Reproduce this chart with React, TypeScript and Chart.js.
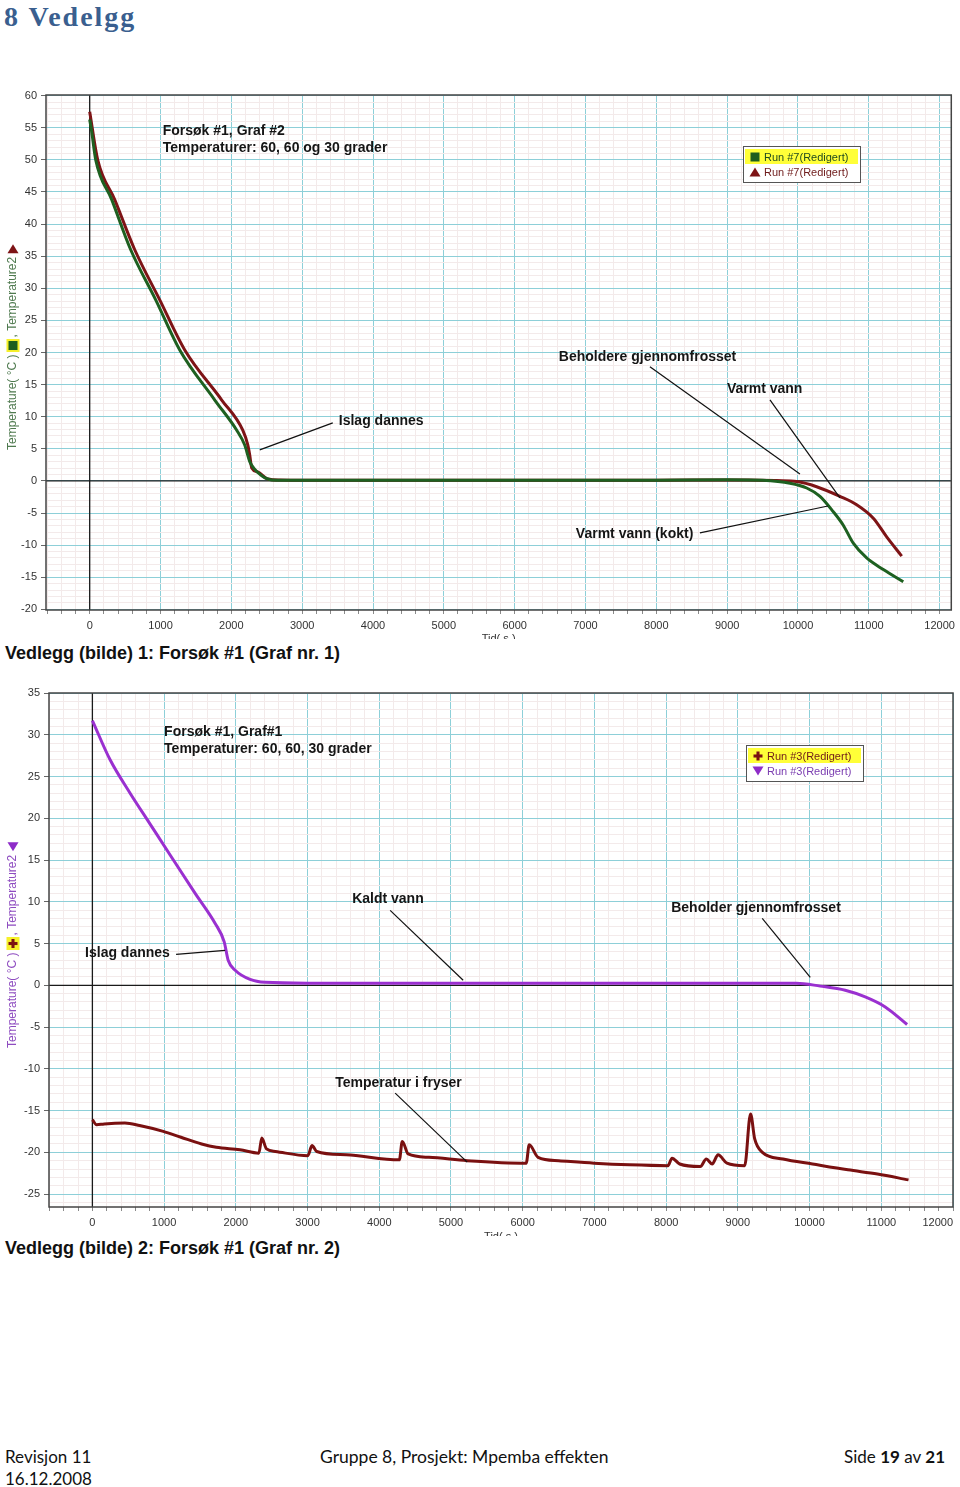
import React, { useEffect, useRef } from 'react';
import { Chart, registerables } from 'chart.js';

Chart.register(...registerables);

const FONT = '"Liberation Sans", Arial, Helvetica, sans-serif';

// ---------------- Graf nr. 1 (Run #7) ----------------
const g1GreenTime = [0, 28, 85, 311, 579, 932, 1271, 1766, 2076, 2189, 2260, 2316, 2429, 2571, 3000, 4000, 5000, 6000, 7000, 8000, 9000, 9500, 9887, 10123, 10311, 10499, 10640, 10781, 10970, 11205, 11487];
const g1GreenTemp = [56.3, 54.4, 50.0, 43.8, 36.0, 28.2, 20.4, 12.6, 7.9, 5.6, 3.0, 2.0, 0.8, 0.15, 0.1, 0.12, 0.1, 0.12, 0.1, 0.12, 0.2, 0.1, -0.36, -1.1, -2.4, -4.8, -6.9, -9.7, -12.0, -13.8, -15.7];
const g1RedTime = [0, 113, 353, 636, 989, 1342, 1864, 2161, 2232, 2260, 2288, 2373, 2514, 2684, 3500, 4500, 5500, 6500, 7500, 8500, 9300, 9700, 9981, 10264, 10593, 10829, 11064, 11253, 11465];
const g1RedTemp = [57.5, 50.0, 43.8, 36.0, 28.2, 20.4, 12.6, 7.9, 5.6, 4.0, 2.0, 1.4, 0.3, 0.15, 0.1, 0.1, 0.12, 0.1, 0.1, 0.15, 0.15, 0.05, -0.1, -0.9, -2.4, -3.7, -5.8, -8.7, -11.7];

// ---------------- Graf nr. 2 (Run #3) ----------------
const g2PurpleTime = [0, 247, 526, 805, 1084, 1433, 1712, 1838, 1893, 1991, 2199, 2408, 3000, 4000, 5000, 6000, 7000, 8000, 9000, 9814, 10148, 10497, 10776, 11055, 11360];
const g2PurpleTemp = [31.7, 27.0, 23.0, 19.3, 15.6, 11.0, 7.4, 5.2, 3.0, 1.8, 0.7, 0.35, 0.25, 0.25, 0.25, 0.25, 0.25, 0.25, 0.25, 0.25, -0.1, -0.6, -1.4, -2.6, -4.7];
const g2FreezerTime = [0, 58, 165, 453, 658, 988, 1235, 1523, 1728, 2058, 2321, 2362, 2428, 2551, 3004, 3062, 3128, 3539, 4280, 4321, 4403, 4691, 5226, 6049, 6091, 6214, 6502, 6996, 7490, 8025, 8082, 8189, 8477, 8560, 8642, 8724, 8848, 9095, 9177, 9235, 9342, 9630, 10041, 10535, 10947, 11380];
const g2FreezerTemp = [-16.1, -16.7, -16.6, -16.5, -16.8, -17.5, -18.2, -19.0, -19.4, -19.7, -20.1, -18.3, -19.6, -19.9, -20.4, -19.2, -19.9, -20.3, -20.9, -18.7, -20.2, -20.6, -21.0, -21.3, -19.1, -20.6, -21.0, -21.3, -21.5, -21.6, -20.7, -21.4, -21.7, -20.8, -21.4, -20.3, -21.3, -21.6, -15.4, -18.4, -20.0, -20.8, -21.4, -22.1, -22.6, -23.3];

// ---------------- tick labels ----------------
const xTickLabels = [0, 1000, 2000, 3000, 4000, 5000, 6000, 7000, 8000, 9000, 10000, 11000, 12000];
const g1YTickLabels = [-20, -15, -10, -5, 0, 5, 10, 15, 20, 25, 30, 35, 40, 45, 50, 55, 60];
const g2YTickLabels = [-25, -20, -15, -10, -5, 0, 5, 10, 15, 20, 25, 30, 35];

// ---------------- annotations (data coordinates) ----------------
const g1Notes = [
  { text: 'Forsøk #1, Graf #2', x: 1031, y: 54.4 },
  { text: 'Temperaturer: 60, 60 og 30 grader', x: 1031, y: 51.75 },
  { text: 'Islag dannes', x: 3517, y: 9.35 },
  { text: 'Beholdere gjennomfrosset', x: 6624, y: 19.33 },
  { text: 'Varmt vann', x: 8997, y: 14.34 },
  { text: 'Varmt vann (kokt)', x: 6864, y: -8.26 },
];
const g1Leaders = [
  { x1: 3432, y1: 9.04, x2: 2401, y2: 4.83 },
  { x1: 7910, y1: 17.77, x2: 10028, y2: 1.09 },
  { x1: 9605, y1: 12.63, x2: 10593, y2: -2.65 },
  { x1: 8616, y1: -8.1, x2: 10424, y2: -3.9 },
];
const g2Notes = [
  { text: 'Forsøk #1, Graf#1', x: 1000, y: 30.26 },
  { text: 'Temperaturer: 60, 60, 30 grader', x: 1000, y: 28.23 },
  { text: 'Kaldt vann', x: 3622, y: 10.29 },
  { text: 'Beholder gjennomfrosset', x: 8071, y: 9.21 },
  { text: 'Islag dannes', x: -102, y: 3.83 },
  { text: 'Temperatur i fryser', x: 3385, y: -11.72 },
];
const g2Leaders = [
  { x1: 4152, y1: 8.97, x2: 5170, y2: 0.6 },
  { x1: 9340, y1: 8.01, x2: 10010, y2: 0.96 },
  { x1: 1167, y1: 3.71, x2: 1851, y2: 4.19 },
  { x1: 4222, y1: -12.92, x2: 5226, y2: -21.17 },
];

const g1LegendLabels = ['Run #7(Redigert)', 'Run #7(Redigert)'];
const g2LegendLabels = ['Run #3(Redigert)', 'Run #3(Redigert)'];

type Icon = 'square' | 'triUp' | 'triDown' | 'plus';

function drawIcon(ctx: CanvasRenderingContext2D, kind: Icon, color: string, cx: number, cy: number, s: number, hilite = false) {
  ctx.save();
  if (hilite) {
    ctx.fillStyle = '#f6f02a';
    ctx.fillRect(cx - s / 2 - 2, cy - s / 2 - 2, s + 4, s + 4);
  }
  ctx.fillStyle = color;
  if (kind === 'square') {
    ctx.fillRect(cx - s / 2, cy - s / 2, s, s);
  } else if (kind === 'triUp') {
    ctx.beginPath();
    ctx.moveTo(cx, cy - s / 2);
    ctx.lineTo(cx + s / 2 + 1, cy + s / 2);
    ctx.lineTo(cx - s / 2 - 1, cy + s / 2);
    ctx.closePath();
    ctx.fill();
  } else if (kind === 'triDown') {
    ctx.beginPath();
    ctx.moveTo(cx - s / 2 - 1, cy - s / 2);
    ctx.lineTo(cx + s / 2 + 1, cy - s / 2);
    ctx.lineTo(cx, cy + s / 2);
    ctx.closePath();
    ctx.fill();
  } else {
    const t = Math.max(2, s * 0.34);
    ctx.fillRect(cx - s / 2, cy - t / 2, s, t);
    ctx.fillRect(cx - t / 2, cy - s / 2, t, s);
  }
  ctx.restore();
}

function stepTicks(min: number, max: number, step: number) {
  const out: { value: number }[] = [];
  for (let k = Math.ceil(min / step); k * step <= max + 1e-9; k++) {
    out.push({ value: Math.round(k * step * 1000) / 1000 });
  }
  return out;
}

type Series = { label: string; color: string; times: number[]; temps: number[] };
type Spec = {
  top: number;
  height: number;
  padTop: number;
  padRight: number;
  yAxisWidth: number;
  xAxisHeight: number;
  xMin: number;
  xMax: number;
  yMin: number;
  yMax: number;
  xAlign: 'center' | 'inner';
  yTicks: number[];
  series: Series[];
  notes: { text: string; x: number; y: number }[];
  leaders: { x1: number; y1: number; x2: number; y2: number }[];
  legend: { text: string; textColor: string; icon: Icon; iconColor: string }[];
  legendRight: number;
  legendTop: number;
  yTitleColor: string;
  yTitleStart: number;
  yIcon1: Icon;
  yIcon1Color: string;
  yIcon2: Icon;
  yIcon2Color: string;
  xTitleOffset: number;
};

const MINOR = '#f3eaea';
const MAJOR = '#8dcfd8';
const ZERO = '#1a1a1a';

function buildConfig(spec: Spec): any {
  const decor = {
    id: 'decor',
    beforeDatasetsDraw(chart: any) {
      const ctx: CanvasRenderingContext2D = chart.ctx;
      const a = chart.chartArea;
      const x0 = chart.scales.x.getPixelForValue(0);
      const y0 = chart.scales.y.getPixelForValue(0);
      ctx.save();
      ctx.strokeStyle = ZERO;
      ctx.lineWidth = 1.3;
      ctx.beginPath();
      ctx.moveTo(a.left, y0);
      ctx.lineTo(a.right, y0);
      ctx.moveTo(x0, a.top);
      ctx.lineTo(x0, a.bottom);
      ctx.stroke();
      ctx.restore();
    },
    afterDatasetsDraw(chart: any) {
      const ctx: CanvasRenderingContext2D = chart.ctx;
      const a = chart.chartArea;
      const xs = chart.scales.x;
      const ys = chart.scales.y;
      ctx.save();
      // leader lines
      ctx.strokeStyle = '#111';
      ctx.lineWidth = 1.2;
      for (const l of spec.leaders) {
        ctx.beginPath();
        ctx.moveTo(xs.getPixelForValue(l.x1), ys.getPixelForValue(l.y1));
        ctx.lineTo(xs.getPixelForValue(l.x2), ys.getPixelForValue(l.y2));
        ctx.stroke();
      }
      // notes
      ctx.fillStyle = '#151515';
      ctx.font = `bold 14px ${FONT}`;
      ctx.textAlign = 'left';
      ctx.textBaseline = 'middle';
      for (const n of spec.notes) {
        ctx.fillText(n.text, xs.getPixelForValue(n.x), ys.getPixelForValue(n.y));
      }
      // border of plot area
      ctx.strokeStyle = '#444';
      ctx.lineWidth = 1.5;
      ctx.strokeRect(a.left, a.top, a.right - a.left, a.bottom - a.top);
      // legend
      const bw = 117;
      const bh = 36;
      const bx = Math.round(a.right - spec.legendRight);
      const by = Math.round(a.top + spec.legendTop);
      ctx.fillStyle = '#fff';
      ctx.fillRect(bx, by, bw, bh);
      ctx.fillStyle = '#ffff38';
      ctx.fillRect(bx + 2, by + 3, bw - 4, 15);
      ctx.strokeStyle = '#555';
      ctx.lineWidth = 1;
      ctx.strokeRect(bx + 0.5, by + 0.5, bw, bh);
      ctx.font = `11px ${FONT}`;
      spec.legend.forEach((r, i) => {
        const cy = by + 11 + i * 15;
        drawIcon(ctx, r.icon, r.iconColor, bx + 12, cy, 9);
        ctx.fillStyle = r.textColor;
        ctx.textAlign = 'left';
        ctx.textBaseline = 'middle';
        ctx.fillText(r.text, bx + 21, cy + 0.5);
      });
      // y axis title with symbols
      const cx = 13;
      const t1 = 'Temperature( °C )';
      const t2 = ', Temperature2';
      ctx.font = `12px ${FONT}`;
      ctx.fillStyle = spec.yTitleColor;
      let yy = spec.yTitleStart;
      const w1 = ctx.measureText(t1).width;
      ctx.save();
      ctx.translate(cx, yy);
      ctx.rotate(-Math.PI / 2);
      ctx.textAlign = 'left';
      ctx.textBaseline = 'middle';
      ctx.fillText(t1, 0, 0);
      ctx.restore();
      yy -= w1 + 3;
      drawIcon(ctx, spec.yIcon1, spec.yIcon1Color, cx, yy - 6, 9, true);
      yy -= 14;
      const w2 = ctx.measureText(t2).width;
      ctx.save();
      ctx.translate(cx, yy);
      ctx.rotate(-Math.PI / 2);
      ctx.textAlign = 'left';
      ctx.textBaseline = 'middle';
      ctx.fillStyle = spec.yTitleColor;
      ctx.fillText(t2, 0, 0);
      ctx.restore();
      yy -= w2 + 3;
      drawIcon(ctx, spec.yIcon2, spec.yIcon2Color, cx, yy - 5, 9);
      // x axis title (cut by the picture edge)
      ctx.font = `11px ${FONT}`;
      ctx.fillStyle = '#333';
      ctx.textAlign = 'center';
      ctx.textBaseline = 'middle';
      ctx.fillText('Tid( s )', (a.left + a.right) / 2, chart.height + spec.xTitleOffset);
      ctx.restore();
    },
  };

  return {
    type: 'line',
    data: {
      datasets: spec.series.map((s) => ({
        label: s.label,
        data: s.times.map((t, i) => ({ x: t, y: s.temps[i] })),
        borderColor: s.color,
        backgroundColor: s.color,
        borderWidth: 3,
        pointRadius: 0,
        fill: false,
        cubicInterpolationMode: 'monotone',
      })),
    },
    options: {
      responsive: false,
      animation: false,
      devicePixelRatio: 1,
      events: [],
      layout: { padding: { top: spec.padTop, right: spec.padRight, left: 0, bottom: 0 } },
      plugins: { legend: { display: false }, tooltip: { enabled: false }, title: { display: false } },
      scales: {
        x: {
          type: 'linear',
          min: spec.xMin,
          max: spec.xMax,
          border: { display: false },
          grid: {
            color: (c: any) => (Math.round(c.tick.value) % 1000 === 0 ? MAJOR : MINOR),
            lineWidth: 1,
            tickColor: '#8a8a8a',
            tickLength: 4,
            drawTicks: true,
          },
          ticks: {
            autoSkip: false,
            maxRotation: 0,
            minRotation: 0,
            padding: 5,
            align: spec.xAlign,
            color: '#333',
            font: { family: FONT, size: 11 },
            callback: (v: any) => {
              const r = Math.round(Number(v));
              return xTickLabels.includes(r) ? String(r) : '';
            },
          },
          afterBuildTicks: (s: any) => {
            s.ticks = stepTicks(spec.xMin, spec.xMax, 200);
          },
          afterFit: (s: any) => {
            s.height = spec.xAxisHeight;
          },
        },
        y: {
          type: 'linear',
          min: spec.yMin,
          max: spec.yMax,
          border: { display: false },
          grid: {
            color: (c: any) => (Math.round(c.tick.value) % 5 === 0 ? MAJOR : MINOR),
            lineWidth: 1,
            tickColor: (c: any) => (Math.round(c.tick.value) % 5 === 0 ? '#666' : 'rgba(0,0,0,0)'),
            tickLength: 5,
            drawTicks: true,
          },
          ticks: {
            autoSkip: false,
            padding: 4,
            color: '#333',
            font: { family: FONT, size: 11 },
            callback: (v: any) => {
              const r = Math.round(Number(v));
              return spec.yTicks.includes(r) ? String(r) : '';
            },
          },
          afterBuildTicks: (s: any) => {
            s.ticks = stepTicks(spec.yMin, spec.yMax, 1);
          },
          afterFit: (s: any) => {
            s.width = spec.yAxisWidth;
          },
        },
      },
    },
    plugins: [decor],
  };
}

const spec1: Spec = {
  top: 84,
  height: 555,
  padTop: 11,
  padRight: 8,
  yAxisWidth: 46,
  xAxisHeight: 29,
  xMin: -617,
  xMax: 12165,
  yMin: -20.1,
  yMax: 60.1,
  xAlign: 'center',
  yTicks: g1YTickLabels,
  series: [
    { label: 'Temperature', color: '#1e6020', times: g1GreenTime, temps: g1GreenTemp },
    { label: 'Temperature2', color: '#7e1416', times: g1RedTime, temps: g1RedTemp },
  ],
  notes: g1Notes,
  leaders: g1Leaders,
  legend: [
    { text: g1LegendLabels[0], textColor: '#1f4a1f', icon: 'square', iconColor: '#1e5e1e' },
    { text: g1LegendLabels[1], textColor: '#6e1a1a', icon: 'triUp', iconColor: '#7e1416' },
  ],
  legendRight: 208,
  legendTop: 51,
  yTitleColor: '#4f7a4f',
  yTitleStart: 366,
  yIcon1: 'square',
  yIcon1Color: '#1e5e1e',
  yIcon2: 'triUp',
  yIcon2Color: '#7e1416',
  xTitleOffset: 0,
};

const spec2: Spec = {
  top: 682,
  height: 554,
  padTop: 11,
  padRight: 7,
  yAxisWidth: 49,
  xAxisHeight: 29,
  xMin: -605,
  xMax: 12000,
  yMin: -26.55,
  yMax: 35,
  xAlign: 'inner',
  yTicks: g2YTickLabels,
  series: [
    { label: 'Temperature2', color: '#9a30d0', times: g2PurpleTime, temps: g2PurpleTemp },
    { label: 'Temperature', color: '#7a1010', times: g2FreezerTime, temps: g2FreezerTemp },
  ],
  notes: g2Notes,
  leaders: g2Leaders,
  legend: [
    { text: g2LegendLabels[0], textColor: '#6e1a1a', icon: 'plus', iconColor: '#7a1212' },
    { text: g2LegendLabels[1], textColor: '#7a3cb0', icon: 'triDown', iconColor: '#8e2cc8' },
  ],
  legendRight: 207,
  legendTop: 52,
  yTitleColor: '#8e4cc0',
  yTitleStart: 366,
  yIcon1: 'plus',
  yIcon1Color: '#7a1212',
  yIcon2: 'triDown',
  yIcon2Color: '#8e2cc8',
  xTitleOffset: 1,
};

function TempChart({ spec }: { spec: Spec }) {
  const ref = useRef<HTMLCanvasElement>(null);
  useEffect(() => {
    if (!ref.current) return;
    const chart = new Chart(ref.current, buildConfig(spec));
    return () => chart.destroy();
  }, [spec]);
  return (
    <canvas
      ref={ref}
      width={960}
      height={spec.height}
      style={{ position: 'absolute', left: 0, top: spec.top, width: 960, height: spec.height }}
    />
  );
}

const caption: React.CSSProperties = {
  position: 'absolute',
  left: 5,
  fontFamily: FONT,
  fontWeight: 'bold',
  fontSize: 18,
  lineHeight: '18px',
  color: '#111',
  whiteSpace: 'nowrap',
};

const foot: React.CSSProperties = {
  position: 'absolute',
  fontFamily: 'Lato, "Open Sans", sans-serif',
  fontSize: 17,
  lineHeight: '17px',
  color: '#111',
  whiteSpace: 'nowrap',
};

export default function App() {
  return (
    <div style={{ position: 'absolute', left: 0, top: 0, width: 960, height: 1487, background: '#fff', overflow: 'hidden' }}>
      <div
        style={{
          position: 'absolute',
          left: 4,
          top: 3,
          fontFamily: '"Liberation Serif", "DejaVu Serif", serif',
          fontWeight: 'bold',
          fontSize: 28,
          lineHeight: '28px',
          letterSpacing: 2,
          color: '#3a5f8f',
          whiteSpace: 'nowrap',
        }}
      >
        8 Vedelgg
      </div>
      <TempChart spec={spec1} />
      <div style={{ ...caption, top: 644 }}>Vedlegg (bilde) 1: Forsøk #1 (Graf nr. 1)</div>
      <TempChart spec={spec2} />
      <div style={{ ...caption, top: 1239 }}>Vedlegg (bilde) 2: Forsøk #1 (Graf nr. 2)</div>
      <div style={{ ...foot, left: 5, top: 1448 }}>Revisjon 11</div>
      <div style={{ ...foot, left: 5, top: 1470 }}>16.12.2008</div>
      <div style={{ ...foot, left: 320, top: 1448, fontSize: 17.5 }}>Gruppe 8, Prosjekt: Mpemba effekten</div>
      <div style={{ ...foot, right: 15, top: 1448 }}>
        Side <b>19</b> av <b>21</b>
      </div>
    </div>
  );
}
